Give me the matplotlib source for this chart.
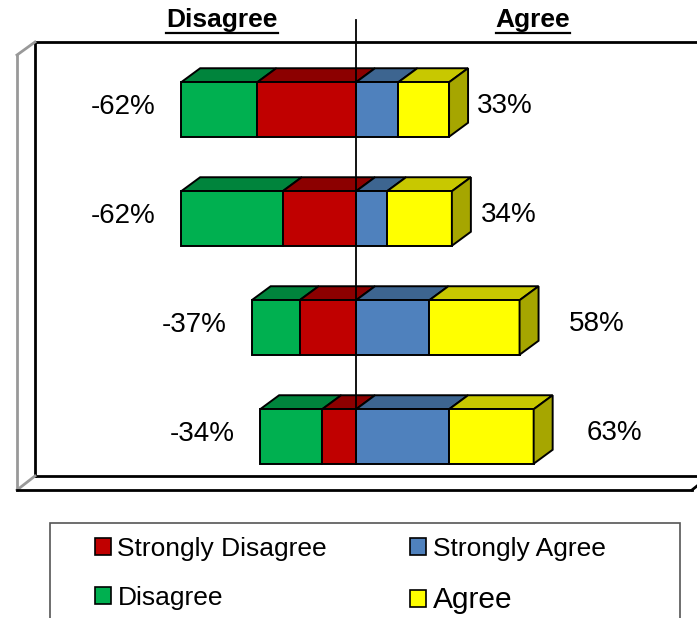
import matplotlib
matplotlib.use("Agg")
import matplotlib.pyplot as plt
from matplotlib.patches import Polygon, Rectangle, Patch
from matplotlib.lines import Line2D

plt.rcParams['font.family'] = ['Liberation Sans', 'DejaVu Sans']

# data, top bar first
strongly_disagree = [35, 26, 20, 12]
disagree = [27, 36, 17, 22]
strongly_agree = [15, 11, 26, 33]
agree = [18, 23, 32, 30]
neg_labels = ['-62%', '-62%', '-37%', '-34%']
pos_labels = ['33%', '34%', '58%', '63%']

col_front = {'D': '#00B050', 'SD': '#C00000', 'SA': '#4F81BD', 'A': '#FFFF00'}
col_top = {'D': '#00843C', 'SD': '#8C0000', 'SA': '#3D6590', 'A': '#C8C800'}
side_yellow = '#A6A600'

W, H = 697, 618
fig = plt.figure(figsize=(W / 100, H / 100), dpi=100)
ax = fig.add_axes([0, 0, 1, 1])
ax.axis('off')

# pixel scale: 2.82 px per percent, zero at x=356, bars 109 px apart
ppx = 2.82
ax.set_xlim(-356 / ppx, (W - 356) / ppx)
ax.set_ylim((H - 109.5) / 109, -109.5 / 109)

bar_h = 0.5
dx = 19 / ppx
dy = 14 / 109


def fx(px):
    return px / W


def fy(py):
    return 1 - py / H


# walls of the 3d box
lines = [
    ((35, 42), (W, 42), 'black', 2),
    ((35, 42), (35, 476), 'black', 2),
    ((35, 476), (W, 476), 'black', 2),
    ((35, 42), (17, 55), '#999999', 2),
    ((17, 55), (17, 490), '#999999', 2),
    ((35, 476), (17, 490), '#999999', 2),
    ((17, 490), (692, 490), 'black', 2),
    ((692, 490), (W, 486), 'black', 2),
]
for (x0, y0), (x1, y1), c, lw in lines:
    fig.add_artist(Line2D([fx(x0), fx(x1)], [fy(y0), fy(y1)], color=c, lw=lw))

ec = 'black'
lw = 1.4
for i in range(len(agree)):
    segs = [
        ('D', -(disagree[i] + strongly_disagree[i]), -strongly_disagree[i]),
        ('SD', -strongly_disagree[i], 0),
        ('SA', 0, strongly_agree[i]),
        ('A', strongly_agree[i], strongly_agree[i] + agree[i]),
    ]
    ytop = i - bar_h / 2
    ybot = i + bar_h / 2
    for key, x0, x1 in segs:
        ax.add_patch(Polygon([(x0, ytop), (x1, ytop), (x1 + dx, ytop - dy), (x0 + dx, ytop - dy)],
                             closed=True, fc=col_top[key], ec=ec, lw=lw, zorder=2))
        ax.add_patch(Rectangle((x0, ytop), x1 - x0, bar_h, fc=col_front[key], ec=ec, lw=lw, zorder=3))
    xr = segs[-1][2]
    ax.add_patch(Polygon([(xr, ytop), (xr + dx, ytop - dy), (xr + dx, ybot - dy), (xr, ybot)],
                         closed=True, fc=side_yellow, ec=ec, lw=lw, zorder=3))

    neg_total = disagree[i] + strongly_disagree[i]
    pos_total = agree[i] + strongly_agree[i]
    ax.text(-(neg_total + 9), i - 0.02, neg_labels[i], ha='right', va='center', fontsize=20)
    ax.text(pos_total * 1.3, i - 0.03, pos_labels[i], ha='left', va='center', fontsize=20)

ax.axvline(0, ymin=fy(463), ymax=fy(20), color='black', lw=1.3, zorder=10)

# headings, underlined
heads = []
for txt, px in [('Disagree', 222), ('Agree', 533)]:
    heads.append(fig.text(fx(px), fy(27), txt, ha='center', va='baseline', fontsize=19, fontweight='bold'))

# legend
handles = [Patch(fc=col_front['SD'], ec='black', lw=1.2),
           Patch(fc=col_front['D'], ec='black', lw=1.2),
           Patch(fc=col_front['SA'], ec='black', lw=1.2),
           Patch(fc=col_front['A'], ec='black', lw=1.2)]
names = ['Strongly Disagree', 'Disagree', 'Strongly Agree', 'Agree']
leg = fig.legend(handles, names, ncol=2, loc='upper left', bbox_to_anchor=(fx(95), fy(537)),
                 frameon=False, fontsize=19, handlelength=0.6, handleheight=0.6,
                 handletextpad=0.25, columnspacing=3.15, labelspacing=0.95, borderpad=0,
                 borderaxespad=0)
leg.get_texts()[3].set_fontsize(21.5)
fig.add_artist(Rectangle((fx(50), fy(640)), fx(680) - fx(50), fy(523) - fy(640),
                         fill=False, ec='#555555', lw=1.2))

fig.canvas.draw()
r = fig.canvas.get_renderer()
for t in heads:
    bb = t.get_window_extent(r)
    fig.add_artist(Line2D([bb.x0 / W, bb.x1 / W], [(bb.y0 - 0.5) / H, (bb.y0 - 0.5) / H],
                          color='black', lw=1.6))

fig.savefig('out.png', dpi=100)
